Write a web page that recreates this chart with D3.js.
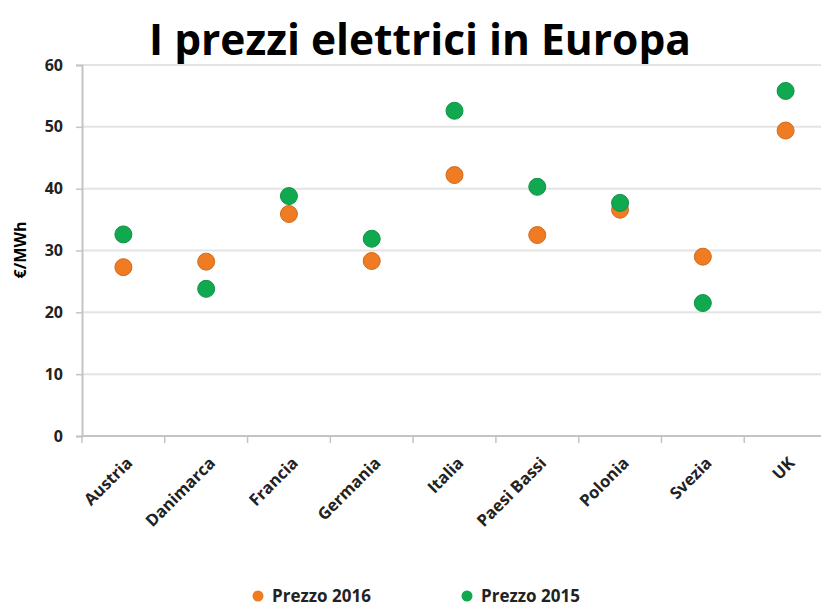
<!DOCTYPE html>
<html>
<head>
<meta charset="utf-8">
<script src="https://cdn.jsdelivr.net/npm/d3@7"></script>
<style>
  body { margin: 0; background: #fff; }
  text { font-family: "Open Sans", "DejaVu Sans", sans-serif; }
</style>
</head>
<body>
<div id="chart"></div>
<script>
var paesi = ['Austria', 'Danimarca', 'Francia', 'Germania', 'Italia', 'Paesi Bassi', 'Polonia', 'Svezia', 'UK'];
var prezzo2016 = [27.3, 28.2, 35.9, 28.3, 42.2, 32.5, 36.6, 29.0, 49.4];
var prezzo2015 = [32.6, 23.8, 38.8, 31.9, 52.6, 40.3, 37.7, 21.5, 55.8];
var yTicks = [0, 10, 20, 30, 40, 50, 60];
var serieNomi = ['Prezzo 2016', 'Prezzo 2015'];
var serieColori = ['#ef7b22', '#10a94f'];

var width = 821, height = 608;
var svg = d3.select('#chart').append('svg')
    .attr('width', width)
    .attr('height', height);

var x = d3.scaleBand().domain(paesi).range([82, 827]);
var y = d3.scaleLinear().domain([0, 60]).range([436, 65]);

// title
svg.append('text')
    .attr('x', 420).attr('y', 55)
    .attr('text-anchor', 'middle')
    .style('font-size', '42.5px')
    .style('font-weight', 'bold')
    .text('I prezzi elettrici in Europa');

// gridlines
svg.selectAll('.grid')
    .data(yTicks.filter(function(d) { return d > 0; }))
    .enter().append('line')
    .attr('x1', 82).attr('x2', width)
    .attr('y1', function(d) { return y(d); })
    .attr('y2', function(d) { return y(d); })
    .attr('stroke', '#e4e4e4')
    .attr('stroke-width', 2);

// y axis
var yAxis = svg.append('g')
    .attr('transform', 'translate(82,0)')
    .call(d3.axisLeft(y).tickValues(yTicks).tickSize(6).tickPadding(13));
yAxis.select('.domain').attr('stroke', '#c4c4c4').attr('stroke-width', 2);
yAxis.selectAll('.tick line').attr('stroke', '#c4c4c4').attr('stroke-width', 1.5);
yAxis.selectAll('.tick text')
    .style('font-size', '16px').style('font-weight', 'bold').attr('fill', '#222');

svg.append('text')
    .attr('transform', 'translate(26,250) rotate(-90)')
    .attr('text-anchor', 'middle')
    .style('font-size', '16px').style('font-weight', 'bold')
    .text('€/MWh');

// x axis
var xAxis = svg.append('g')
    .attr('transform', 'translate(0,436)')
    .call(d3.axisBottom(x).tickSize(0).tickPadding(0));
xAxis.select('.domain').remove();
svg.append('line')
    .attr('x1', 82).attr('x2', width).attr('y1', 436).attr('y2', 436)
    .attr('stroke', '#c4c4c4').attr('stroke-width', 2);
svg.selectAll('.xtick')
    .data(paesi)
    .enter().append('line')
    .attr('x1', function(d) { return x(d); })
    .attr('x2', function(d) { return x(d); })
    .attr('y1', 436).attr('y2', 443)
    .attr('stroke', '#c4c4c4').attr('stroke-width', 1.5);
xAxis.selectAll('.tick text')
    .attr('transform', 'translate(6,24) rotate(-45)')
    .attr('text-anchor', 'end')
    .attr('dy', '0.35em')
    .attr('fill', '#222')
    .style('font-size', '16.5px').style('font-weight', 'bold');

// points
var serie = [prezzo2016, prezzo2015];
serie.forEach(function(vals, s) {
    svg.selectAll('.p' + s)
        .data(vals)
        .enter().append('circle')
        .attr('cx', function(d, i) { return x(paesi[i]) + x.bandwidth() / 2; })
        .attr('cy', function(d) { return y(d); })
        .attr('r', 8.5)
        .attr('fill', serieColori[s])
        .attr('stroke', d3.color(serieColori[s]).darker(0.4))
        .attr('stroke-width', 1);
});

// legend
var legX = [258, 467];
var leg = svg.selectAll('.leg')
    .data(serieNomi)
    .enter().append('g')
    .attr('transform', function(d, i) { return 'translate(' + legX[i] + ',596)'; });
leg.append('circle').attr('r', 5.5)
    .attr('fill', function(d, i) { return serieColori[i]; });
leg.append('text')
    .attr('x', 14).attr('dy', '0.35em')
    .style('font-size', '17px').style('font-weight', 'bold').attr('fill', '#222')
    .text(function(d) { return d; });
</script>
</body>
</html>
